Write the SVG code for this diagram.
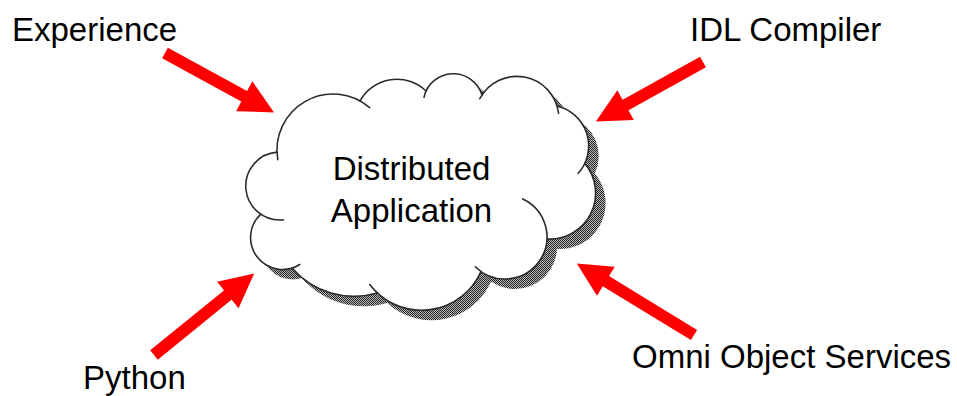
<svg xmlns="http://www.w3.org/2000/svg" xmlns:xlink="http://www.w3.org/1999/xlink" width="957" height="396" viewBox="0 0 957 396">
  <style>
    .label { font-family: "Liberation Sans", Arial, Helvetica, sans-serif; font-size: 33px; fill: #000; }
    .lobe { fill: none; stroke: #2a2a2a; stroke-width: 1.6; stroke-linecap: round; }
    .arrow { stroke: #ff0000; stroke-width: 12; fill: none; marker-end: url(#head); }
  </style>
  <defs>
    <pattern id="dither" width="2" height="2" patternUnits="userSpaceOnUse">
      <rect width="2" height="2" fill="#bbbbbb"/>
      <rect x="0" y="0" width="1" height="1" fill="#222"/>
      <rect x="1" y="1" width="1" height="1" fill="#222"/>
    </pattern>
    <marker id="head" markerUnits="userSpaceOnUse" markerWidth="40" markerHeight="40" viewBox="0 -20 40 40" refX="1" refY="0" orient="auto" overflow="visible">
      <path d="M0,-17 L34,0 L0,17 Z" fill="#ff0000"/>
    </marker>
    <g id="cloudShape">
      <circle cx="280" cy="186" r="34"/>
      <circle cx="282.8" cy="237.4" r="32"/>
      <circle cx="353.8" cy="214.3" r="82"/>
      <circle cx="421.5" cy="245.3" r="65"/>
      <circle cx="505" cy="237" r="42"/>
      <circle cx="549.6" cy="193.1" r="46"/>
      <circle cx="547.7" cy="145.9" r="41"/>
      <circle cx="516.9" cy="118.4" r="42"/>
      <circle cx="453.3" cy="103.5" r="30"/>
      <circle cx="396.8" cy="121.2" r="42"/>
      <circle cx="332.9" cy="150" r="56"/>
      <polygon points="277,152 261,214 292,268 377,293 481,271.5 547,239 585,163 557,106 482,95 426,91 360,101"/>
    </g>
  </defs>

  <g id="connectors">
    <line class="arrow" x1="165" y1="53" x2="245.1" y2="96.7"/>
    <line class="arrow" x1="703" y1="62" x2="624.7" y2="105.5"/>
    <line class="arrow" x1="154" y1="355" x2="228.6" y2="294.4"/>
    <line class="arrow" x1="694" y1="335" x2="605" y2="280.7"/>
  </g>

  <g id="node-distributed-application">
    <use xlink:href="#cloudShape" href="#cloudShape" transform="translate(10,10)" fill="url(#dither)"/>
    <use xlink:href="#cloudShape" href="#cloudShape" fill="#ffffff"/>
    <path class="lobe" d="M277.04,152.13 A34,34 0 1 0 283.55,219.81"/>
    <path class="lobe" d="M260.8,214.1 A32,32 0 0 0 299.76,264.54"/>
    <path class="lobe" d="M292,268 A82,82 0 0 0 377.2,292.9"/>
    <path class="lobe" d="M369.7,284.5 A65,65 0 0 0 481,271.5"/>
    <path class="lobe" d="M475.3,266.7 A42,42 0 1 0 522.7,198.9"/>
    <path class="lobe" d="M547,239 A46,46 0 0 0 584.8,163.4"/>
    <path class="lobe" d="M578.2,173.3 A41,41 0 0 0 557,106"/>
    <path class="lobe" d="M558.6,113.3 A42,42 0 0 0 479.8,98.7"/>
    <path class="lobe" d="M482,95 A30,30 0 0 0 424,97.3"/>
    <path class="lobe" d="M426,91 A42,42 0 0 0 360,101"/>
    <path class="lobe" d="M369.6,107.7 A56,56 0 0 0 277.8,159.7"/>
    <text class="label" x="411.5" y="180" text-anchor="middle">Distributed</text>
    <text class="label" x="411.5" y="222" text-anchor="middle">Application</text>
  </g>

  <g id="node-experience">
    <text class="label" x="12" y="41">Experience</text>
  </g>
  <g id="node-idl-compiler">
    <text class="label" x="690" y="41">IDL Compiler</text>
  </g>
  <g id="node-python">
    <text class="label" x="83" y="389">Python</text>
  </g>
  <g id="node-omni-object-services">
    <text class="label" x="632" y="368">Omni Object Services</text>
  </g>
</svg>
